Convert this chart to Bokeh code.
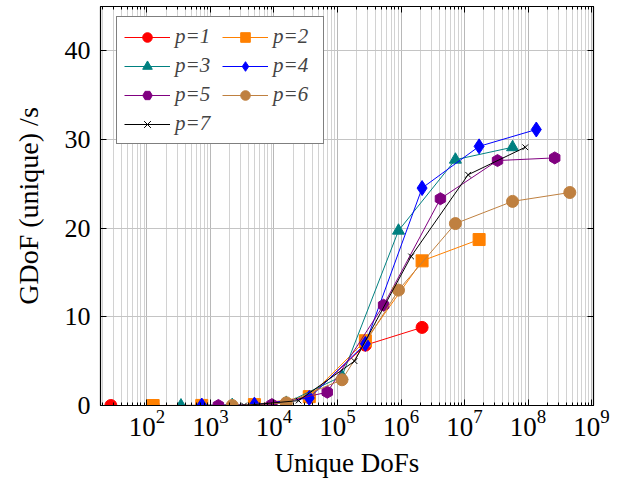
import numpy as np
from bokeh.plotting import figure
from bokeh.models import (LogAxis, LinearAxis, FixedTicker, Range1d, Legend, LegendItem,
                          CustomJSTickFormatter)
from bokeh.embed import file_html
from bokeh.resources import INLINE

# ---- data ----
labels = ["p=1", "p=2", "p=3", "p=4", "p=5", "p=6", "p=7"]

dofs_p1 = [27, 125, 729, 4913, 35937, 274625, 2146689]
gdof_p1 = [0.0, 0.0, 0.01, 0.05, 0.9, 6.8, 8.8]

dofs_p2 = [125, 729, 4913, 35937, 274625, 2146689, 16974593]
gdof_p2 = [0.0, 0.01, 0.1, 1.0, 7.3, 16.3, 18.7]

dofs_p3 = [343, 2197, 15625, 117649, 912673, 7189057, 57066625]
gdof_p3 = [0.0, 0.05, 0.3, 3.3, 19.7, 27.7, 29.1]

dofs_p4 = [729, 4913, 35937, 274625, 2146689, 16974593, 135005697]
gdof_p4 = [0.0, 0.1, 0.85, 6.95, 24.5, 29.2, 31.1]

dofs_p5 = [1331, 9261, 68921, 531441, 4173281, 33076161, 263374721]
gdof_p5 = [0.0, 0.1, 1.5, 11.3, 23.3, 27.6, 27.9]

dofs_p6 = [2197, 15625, 117649, 912673, 7189057, 57066625, 454756609]
gdof_p6 = [0.0, 0.3, 2.9, 13.0, 20.5, 23.0, 24.0]

dofs_p7 = [3375, 24389, 185193, 1442897, 11390625, 90518849]
gdof_p7 = [0.0, 0.55, 5.0, 16.8, 26.0, 29.1]

x_ticks = [1e2, 1e3, 1e4, 1e5, 1e6, 1e7, 1e8, 1e9]
y_ticks = [0, 10, 20, 30, 40]

series = [
    (dofs_p1, gdof_p1, "#ff0000", "circle", 12),
    (dofs_p2, gdof_p2, "#ff8000", "square", 12),
    (dofs_p3, gdof_p3, "#008080", "triangle", 12),
    (dofs_p4, gdof_p4, "#0000ff", "diamond", 15),
    (dofs_p5, gdof_p5, "#800080", "hex", 12),
    (dofs_p6, gdof_p6, "#bf8040", "circle", 12),
    (dofs_p7, gdof_p7, "#000000", "x", 8),
]

FONT = "Liberation Serif"

p = figure(width=625, height=487, x_axis_type="log",
           x_range=Range1d(10 ** 1.268, 10 ** 9.031), y_range=Range1d(0, 44.96),
           output_backend="svg", toolbar_location=None,
           min_border_left=100, min_border_right=32, min_border_top=6, min_border_bottom=82)

bottom_ax = p.below[0]
left_ax = p.left[0]

minor = [k * 10.0 ** e for e in range(1, 9) for k in range(2, 10)]
xt = FixedTicker(ticks=x_ticks, minor_ticks=minor)
yt = FixedTicker(ticks=y_ticks, minor_ticks=[])
bottom_ax.ticker = xt
left_ax.ticker = yt

p.xgrid.ticker = xt
p.ygrid.ticker = yt
p.xgrid.grid_line_color = "#b8b8b8"
p.xgrid.minor_grid_line_color = "#d2d2d2"
p.ygrid.grid_line_color = "#c4c4c4"

blank = CustomJSTickFormatter(code="return ''")
top_ax = LogAxis(ticker=xt, formatter=blank, major_label_standoff=0)
right_ax = LinearAxis(ticker=yt, formatter=blank, major_label_standoff=0)
p.add_layout(top_ax, "above")
p.add_layout(right_ax, "right")

for ax in (bottom_ax, left_ax, top_ax, right_ax):
    ax.major_tick_in = 6
    ax.major_tick_out = 0
    ax.minor_tick_in = 3
    ax.minor_tick_out = 0
    ax.major_tick_line_color = "black"
    ax.minor_tick_line_color = "black"
    ax.axis_line_color = "black"
    ax.major_label_text_font = FONT
    ax.major_label_text_color = "black"
    ax.axis_label_text_font = FONT
    ax.axis_label_text_font_style = "normal"
    ax.axis_label_text_color = "black"

bottom_ax.major_label_text_font_size = "27px"
left_ax.major_label_text_font_size = "26px"
bottom_ax.axis_label_text_font_size = "27px"
left_ax.axis_label_text_font_size = "28px"
bottom_ax.axis_label = "Unique DoFs"
left_ax.axis_label = "GDoF (unique) /s"
bottom_ax.major_label_standoff = 4
left_ax.major_label_standoff = 10
bottom_ax.axis_label_standoff = 9
left_ax.axis_label_standoff = 18

p.outline_line_color = "black"
p.outline_line_width = 1.2
p.outline_line_alpha = 1

items = []
for (xs, ys, col, mk, sz), lab in zip(series, labels):
    r1 = p.line(xs, ys, line_color=col, line_width=1)
    if mk == "x":
        r2 = p.scatter(xs, ys, marker="x", size=sz, line_color=col, line_width=1)
    elif mk == "hex":
        r2 = p.scatter(xs, ys, marker=mk, size=sz, angle=np.pi / 2,
                       fill_color=col, line_color=col)
    else:
        r2 = p.scatter(xs, ys, marker=mk, size=sz, fill_color=col, line_color=col)
    items.append(LegendItem(label=lab, renderers=[r1, r2]))

# legend fills column-major: reorder so rows read p=1 p=2 / p=3 p=4 / ...
ordered = items[0::2] + items[1::2]

legend = Legend(items=ordered, ncols=2, location=(16, 261),
                label_text_font=FONT, label_text_font_size="21px",
                label_text_font_style="italic",
                glyph_width=46, glyph_height=24, label_standoff=5, label_width=43,
                spacing=4, padding=7, border_line_color="black",
                border_line_width=1, background_fill_alpha=1, margin=0)
p.add_layout(legend)

open("out.html", "w").write(file_html(p, INLINE))
